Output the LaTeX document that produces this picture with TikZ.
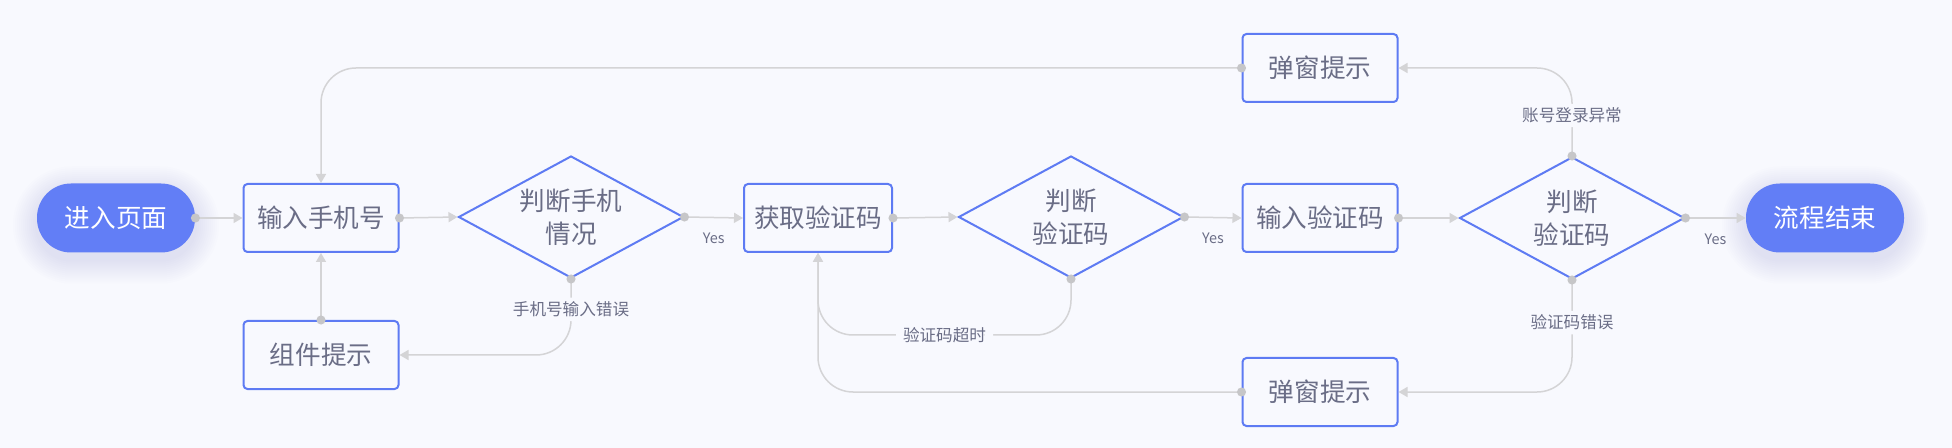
\documentclass[tikz,border=0pt]{standalone}
\usepackage{fontspec}
\setmainfont{Noto Sans CJK SC}
\usetikzlibrary{shapes.geometric,arrows.meta}
\definecolor{bgcol}{HTML}{F8F9FE}
\definecolor{boxblue}{HTML}{5E7BF3}
\definecolor{pillblue}{HTML}{627EF6}
\definecolor{txtgray}{HTML}{6A6D86}
\definecolor{linegray}{HTML}{D4D4D6}
\definecolor{dotgray}{HTML}{C6C6C8}
\definecolor{shadowcol}{HTML}{7D86C4}

\begin{document}
\begin{tikzpicture}[x=0.5pt,y=-0.5pt,
  box/.style={draw=boxblue,fill=bgcol,line width=1pt,rounded corners=2pt,minimum width=77.5pt,minimum height=34pt,text=txtgray,font=\fontsize{12.8}{14}\selectfont},
  pill/.style={fill=pillblue,rounded corners=17pt,minimum width=79pt,minimum height=34.5pt,text=white,font=\fontsize{12.8}{14}\selectfont},
  judge/.style={diamond,draw=boxblue,fill=bgcol,line width=1pt,aspect=1.8,inner sep=0pt,minimum width=112.5pt,minimum height=61pt,align=center,text=txtgray,font=\fontsize{12.8}{16.5}\selectfont},
  link/.style={draw=linegray,line width=0.75pt,{Circle[length=4.5pt,color=dotgray,fill=dotgray]}-{Triangle[length=4.5pt,width=5pt]},shorten <=-2.25pt},
  lbl/.style={fill=bgcol,text=txtgray,inner xsep=3.5pt,inner ysep=2pt,font=\fontsize{8.3}{10}\selectfont},
  yes/.style={text=txtgray,yshift=-10.5pt,font=\fontsize{7.2}{9}\selectfont}]
\useasboundingbox (0,0) rectangle (1952,448);
\fill[bgcol] (0,0) rectangle (1952,448);

% soft shadow under the two end pills
\foreach \cx in {116,1825}
  \foreach \r in {1,...,12}
    \fill[shadowcol,opacity=0.014,rounded corners={17.25pt+\r pt}]
      ({\cx-79-2*\r},{218-34.5-2*\r+7}) rectangle ({\cx+79+2*\r},{218+34.5+2*\r+7});

% main row
\node[pill] (start) at (116,218) {进入页面};
\node[box] (phone) at (321,218) {输入手机号};
\node[judge] (chkphone) at (571,217) {判断手机\\情况};
\node[box,minimum width=74pt] (getcode) at (818,218) {获取验证码};
\node[judge] (chkcode) at (1071,217) {判断\\验证码};
\node[box] (incode) at (1320,218) {输入验证码};
\node[judge] (chklogin) at (1572,218) {判断\\验证码};
\node[pill] (finish) at (1825,218) {流程结束};

% hint boxes
\node[box] (hint) at (321,355) {组件提示};
\node[box] (poptop) at (1320,68) {弹窗提示};
\node[box] (popbot) at (1320,392) {弹窗提示};

\draw[link] (start.east) -- (phone.west);
\draw[link] (phone.east) -- (chkphone.west);
\draw[link] (chkphone.east) -- node[yes]{Yes} (getcode.west);
\draw[link] (getcode.east) -- (chkcode.west);
\draw[link] (chkcode.east) -- node[yes]{Yes} (incode.west);
\draw[link] (incode.east) -- (chklogin.west);
\draw[link] (chklogin.east) -- node[yes]{Yes} (finish.west);

% back loops
\draw[link,rounded corners=17.5pt] (chkphone.south) |- node[lbl,pos=0.2]{手机号输入错误} (hint.east);
\draw[link] (hint.north) -- (phone.south);
\draw[link,rounded corners=17.5pt] (chkcode.south) -- ++(0,56) -| node[lbl,pos=0.25]{验证码超时} (getcode.south);
\draw[link,rounded corners=17.5pt] (chklogin.north) |- node[lbl,pos=0.23]{账号登录异常} (poptop.east);
\draw[link,rounded corners=17.5pt] (poptop.west) -| (phone.north);
\draw[link,rounded corners=17.5pt] (chklogin.south) |- node[lbl,pos=0.19]{验证码错误} (popbot.east);
\draw[link,rounded corners=17.5pt] (popbot.west) -| (getcode.south);
\end{tikzpicture}
\end{document}
